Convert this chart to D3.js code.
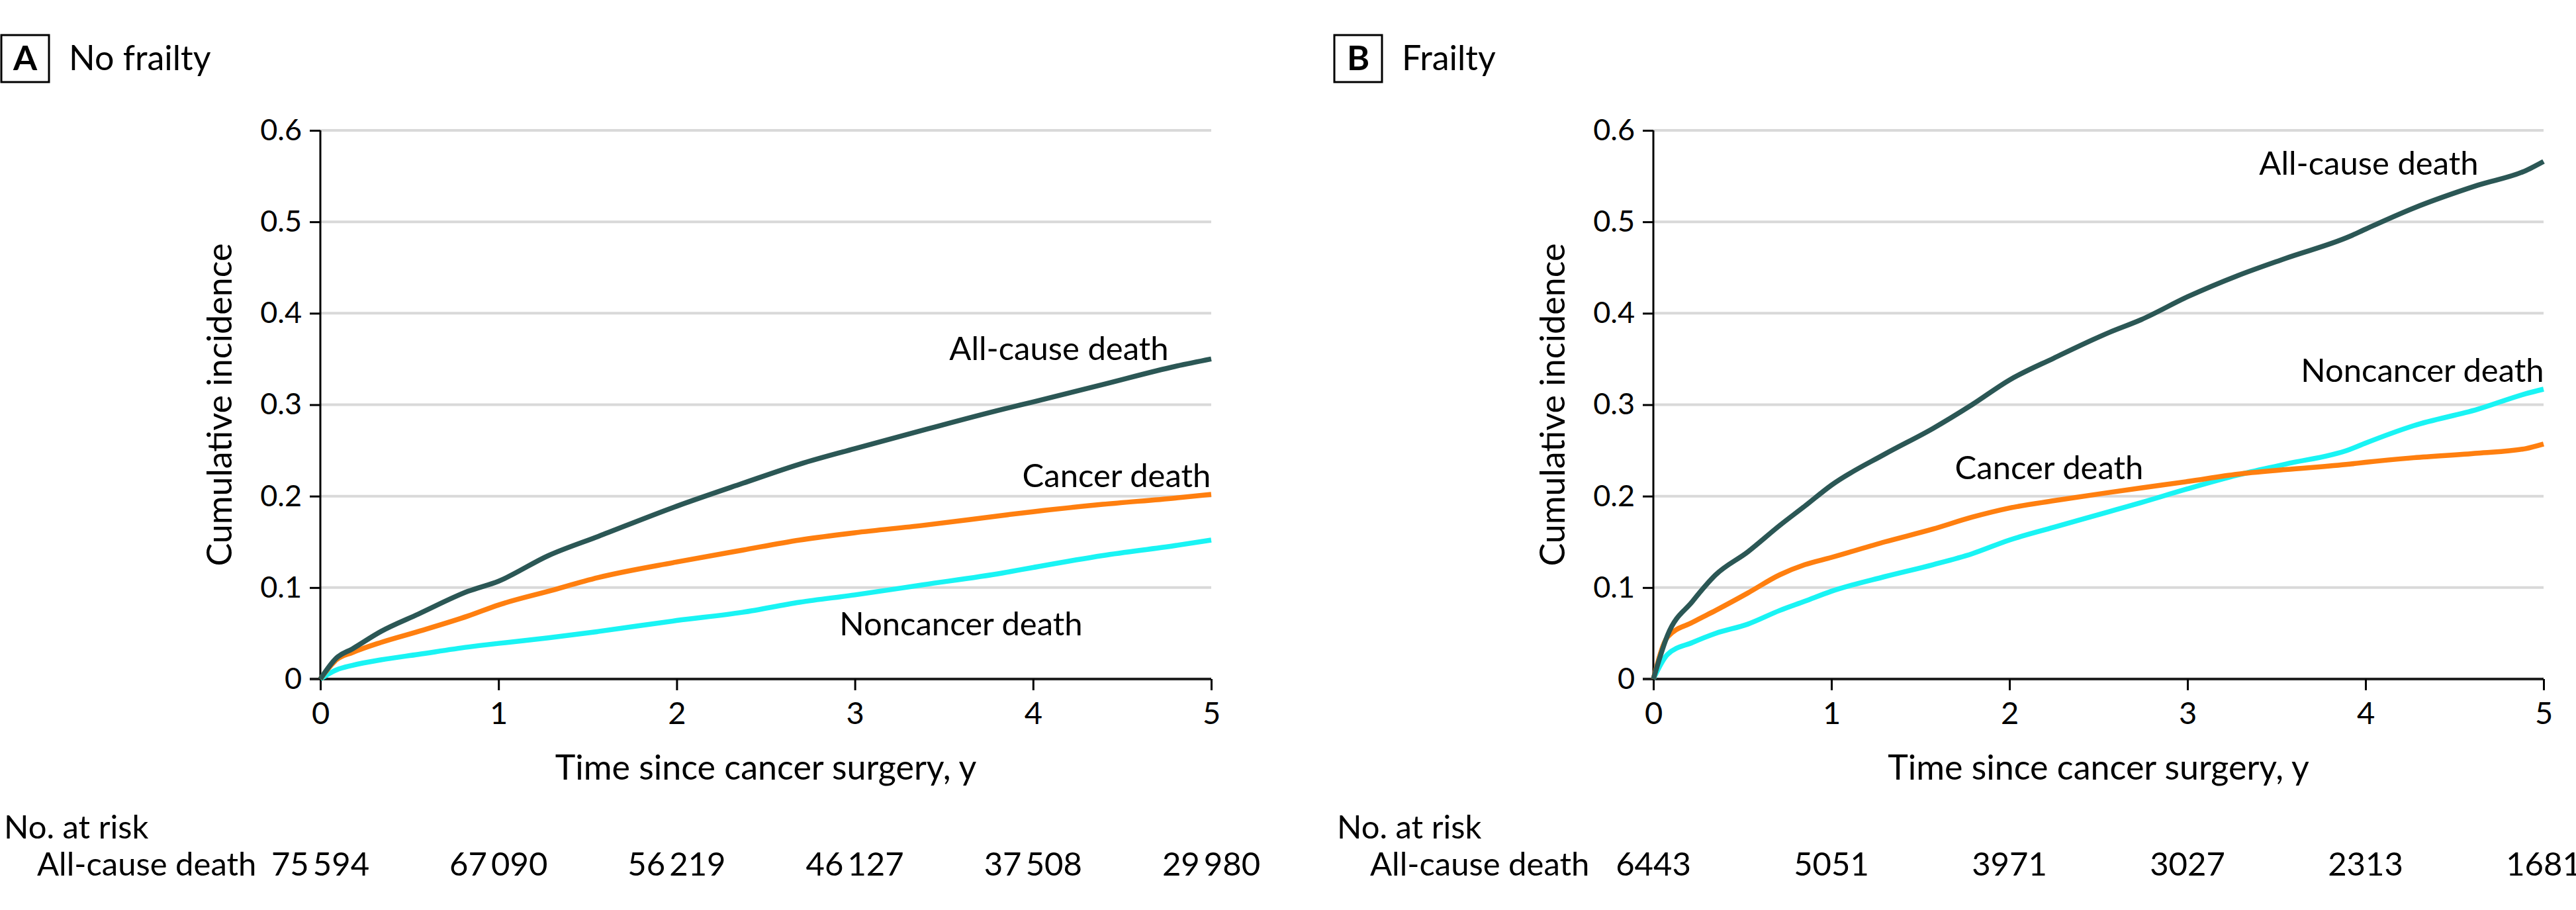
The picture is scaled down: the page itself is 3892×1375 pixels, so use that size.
<!DOCTYPE html>
<html>
<head>
<meta charset="utf-8">
<script src="https://cdn.jsdelivr.net/npm/d3@7"></script>
<style>
  body { margin: 0; background: #fff; }
  svg text { font-family: Lato, "Open Sans", sans-serif; fill: #000; }
</style>
</head>
<body>
<div id="chart"></div>
<script>
// ---- data ----
var timeA = [0, 0.09, 0.18, 0.34, 0.55, 0.83, 1.0, 1.28, 1.56, 2.0, 2.37, 2.69, 3.0, 3.38, 3.83, 4.0, 4.39, 4.8, 5.0];
var allCauseA  = [0, 0.023, 0.033, 0.052, 0.071, 0.096, 0.107, 0.135, 0.156, 0.189, 0.214, 0.235, 0.252, 0.272, 0.295, 0.303, 0.322, 0.342, 0.350];
var cancerA    = [0, 0.021, 0.029, 0.040, 0.052, 0.069, 0.081, 0.096, 0.111, 0.128, 0.141, 0.152, 0.160, 0.168, 0.179, 0.183, 0.191, 0.198, 0.202];
var noncancerA = [0, 0.010, 0.015, 0.021, 0.027, 0.035, 0.039, 0.045, 0.052, 0.064, 0.073, 0.084, 0.092, 0.103, 0.116, 0.122, 0.135, 0.146, 0.152];

var timeB = [0, 0.08, 0.22, 0.35, 0.53, 0.71, 0.85, 1.0, 1.3, 1.57, 1.79, 2.0, 2.25, 2.56, 2.74, 3.0, 3.28, 3.55, 3.91, 4.0, 4.27, 4.63, 4.9, 5.0];
var allCauseB  = [0, 0.048, 0.085, 0.114, 0.139, 0.168, 0.189, 0.212, 0.246, 0.274, 0.300, 0.327, 0.351, 0.379, 0.393, 0.418, 0.441, 0.460, 0.484, 0.492, 0.515, 0.540, 0.556, 0.566];
var cancerB    = [0, 0.046, 0.062, 0.075, 0.094, 0.114, 0.125, 0.133, 0.150, 0.164, 0.177, 0.187, 0.195, 0.204, 0.209, 0.216, 0.224, 0.229, 0.235, 0.237, 0.242, 0.247, 0.252, 0.257];
var noncancerB = [0, 0.027, 0.040, 0.050, 0.060, 0.075, 0.085, 0.096, 0.112, 0.125, 0.137, 0.152, 0.166, 0.183, 0.193, 0.208, 0.223, 0.235, 0.251, 0.258, 0.277, 0.295, 0.312, 0.317];

var xTicks = [0, 1, 2, 3, 4, 5];
var yTicks = [0, 0.1, 0.2, 0.3, 0.4, 0.5, 0.6];
var atRiskA = ["75\u2009594", "67\u2009090", "56\u2009219", "46\u2009127", "37\u2009508", "29\u2009980"];
var atRiskB = ["6443", "5051", "3971", "3027", "2313", "1681"];

var seriesNames = ["All-cause death", "Cancer death", "Noncancer death"];
var seriesColors = ["#2b5755", "#ff7f0f", "#19f4f4"];

var W = 3892, H = 1375;
var svg = d3.select("#chart").append("svg").attr("width", W).attr("height", H);

var panels = [
  { letter: "A", title: "No frailty", left: 0, x0: 484, x1: 1830, time: timeA,
    series: [allCauseA, cancerA, noncancerA], risk: atRiskA,
    labels: [[1600, 544], [1687, 736], [1452, 960]] },
  { letter: "B", title: "Frailty", left: 2014, x0: 2498, x1: 3843, time: timeB,
    series: [allCauseB, cancerB, noncancerB], risk: atRiskB,
    labels: [[3579, 264], [3096, 724], [3660, 577]] }
];

var yTop = 197, yBot = 1026;

panels.forEach(function(p){
  var g = svg.append("g");
  var x = d3.scaleLinear().domain([0, 5]).range([p.x0, p.x1]);
  var y = d3.scaleLinear().domain([0, 0.6]).range([yBot, yTop]);

  // panel letter box + title
  g.append("rect").attr("x", p.left + 2).attr("y", 53).attr("width", 72).attr("height", 71)
    .attr("fill", "none").attr("stroke", "#000").attr("stroke-width", 3);
  g.append("text").attr("x", p.left + 38).attr("y", 106).attr("text-anchor", "middle")
    .attr("font-size", 52).attr("font-weight", "bold").text(p.letter);
  g.append("text").attr("x", p.left + 104).attr("y", 106)
    .attr("font-size", 52).text(p.title);

  // gridlines
  g.selectAll(".grid").data(yTicks.filter(function(d){ return d > 0; })).enter().append("line")
    .attr("x1", p.x0).attr("x2", p.x1)
    .attr("y1", function(d){ return y(d); }).attr("y2", function(d){ return y(d); })
    .attr("stroke", "#d9d9d9").attr("stroke-width", 4);

  // y axis
  var yAxis = d3.axisLeft(y).tickValues(yTicks).tickSize(16).tickPadding(12)
    .tickFormat(function(d){ return d === 0 ? "0" : d3.format(".1f")(d); });
  var ya = g.append("g").attr("transform", "translate(" + p.x0 + ",0)").call(yAxis);
  ya.select(".domain").attr("stroke-width", 3).attr("d", "M0," + yTop + "V" + yBot);
  ya.selectAll(".tick line").attr("stroke-width", 3);
  ya.selectAll("text").attr("font-size", 45).attr("font-family", null);

  // x axis
  var xAxis = d3.axisBottom(x).tickValues(xTicks).tickSize(17).tickPadding(18).tickFormat(d3.format("d"));
  var xa = g.append("g").attr("transform", "translate(0," + yBot + ")").call(xAxis);
  xa.select(".domain").attr("stroke-width", 4).attr("stroke", "#222").attr("d", "M" + (p.x0 - 16) + ",0H" + p.x1);
  xa.selectAll(".tick line").attr("stroke-width", 3);
  xa.selectAll("text").attr("font-size", 47).attr("font-family", null);

  // axis titles
  g.append("text").attr("x", (p.x0 + p.x1) / 2).attr("y", 1178).attr("text-anchor", "middle")
    .attr("font-size", 52).text("Time since cancer surgery, y");
  g.append("text").attr("transform", "translate(" + (p.x0 - 134) + "," + ((yTop + yBot) / 2) + ") rotate(-90)")
    .attr("text-anchor", "middle").attr("font-size", 52).text("Cumulative incidence");

  // curves
  var line = d3.line().curve(d3.curveMonotoneX)
    .x(function(d){ return x(d[0]); }).y(function(d){ return y(d[1]); });
  [2, 1, 0].forEach(function(i){
    var pts = p.time.map(function(t, k){ return [t, p.series[i][k]]; });
    g.append("path").datum(pts).attr("d", line).attr("fill", "none")
      .attr("stroke", seriesColors[i]).attr("stroke-width", 7.5).attr("stroke-linejoin", "round");
  });

  // curve labels
  p.labels.forEach(function(l, i){
    g.append("text").attr("x", l[0]).attr("y", l[1]).attr("text-anchor", "middle")
      .attr("font-size", 49).text(seriesNames[i]);
  });

  // number at risk table
  g.append("text").attr("x", p.left + 6).attr("y", 1267).attr("font-size", 49).text("No. at risk");
  g.append("text").attr("x", p.left + 56).attr("y", 1323).attr("font-size", 49).text("All-cause death");
  g.selectAll(".risk").data(p.risk).enter().append("text")
    .attr("x", function(d, i){ return x(xTicks[i]); }).attr("y", 1323)
    .attr("text-anchor", "middle").attr("font-size", 49).text(function(d){ return d; });
});
</script>
</body>
</html>
